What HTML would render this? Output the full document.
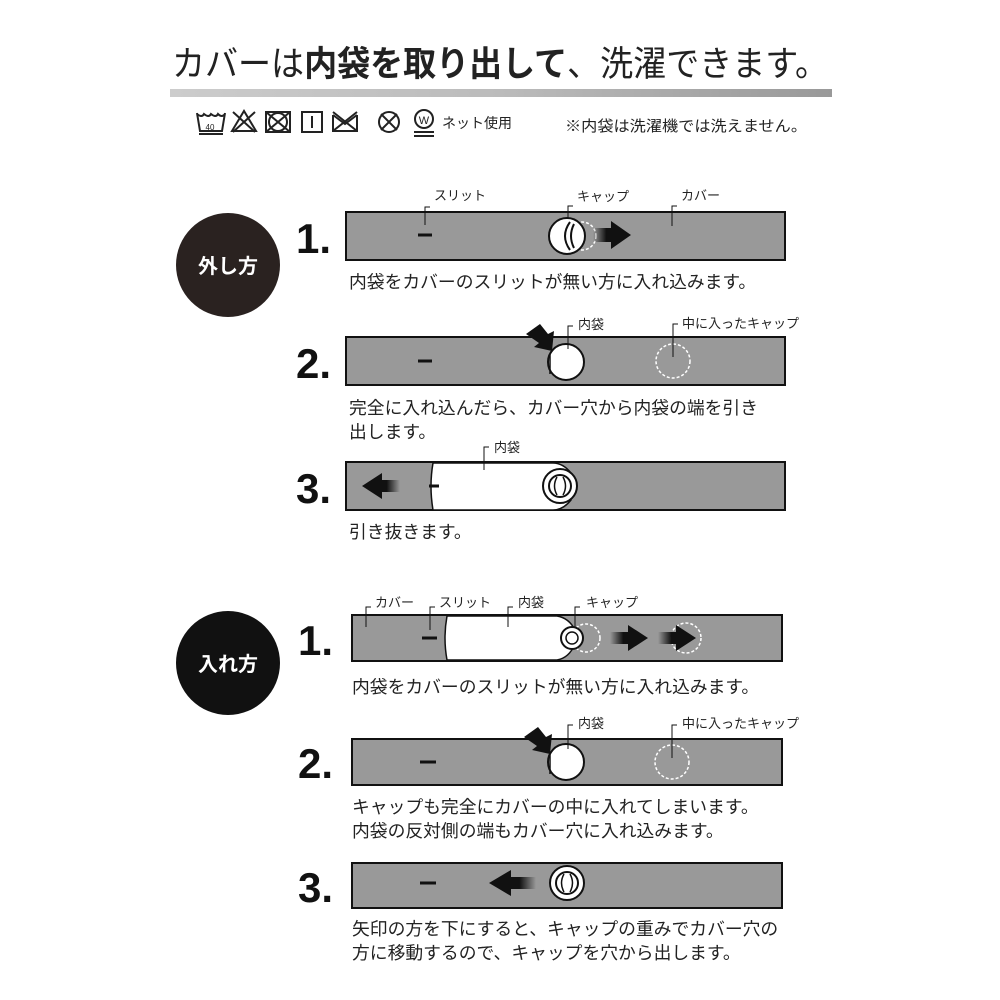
<!DOCTYPE html>
<html><head><meta charset="utf-8"><style>
html,body{margin:0;padding:0;background:#fff}
svg{display:block}
text{font-family:"Liberation Sans","Noto Sans CJK JP",sans-serif;fill:#222}
.lbl{font-size:13px}
.cap{font-size:17.8px}
.num{font-size:42px;font-weight:bold;fill:#111}
</style></head><body>
<svg width="1000" height="1000" viewBox="0 0 1000 1000" xmlns="http://www.w3.org/2000/svg">
<defs>
<linearGradient id="ar" x1="0" x2="1"><stop offset="0" stop-color="#111" stop-opacity="0"/><stop offset="0.35" stop-color="#111"/></linearGradient>
<linearGradient id="al" x1="1" x2="0"><stop offset="0" stop-color="#111" stop-opacity="0"/><stop offset="0.35" stop-color="#111"/></linearGradient>
<linearGradient id="band" x1="0" x2="1"><stop offset="0" stop-color="#ccc"/><stop offset="0.5" stop-color="#bbb"/><stop offset="1" stop-color="#999"/></linearGradient>
</defs>
<text x="500" y="76" text-anchor="middle" textLength="656" lengthAdjust="spacingAndGlyphs" style="font-size:35px">カバーは<tspan font-weight="bold">内袋を取り出して</tspan>、洗濯できます。</text>
<rect x="170" y="89" width="662" height="8" fill="url(#band)"/>
<g stroke="#222" stroke-width="2" fill="none">
<path d="M197 113 l3 18 h22 l3-18 M197 114 q5 4 7 0 q5 4 7 0 q5 4 7 0 q4 4 7 0"/><line x1="199" y1="134" x2="223" y2="134"/>
<path d="M232 131 l12-20 l12 20z M233 112 l22 20 M255 112 l-22 20"/>
<rect x="266" y="112" width="24" height="20"/><circle cx="278" cy="122" r="9"/><path d="M266 112 l24 20 M290 112 l-24 20"/>
<rect x="302" y="112" width="20" height="20"/><line x1="312" y1="116" x2="312" y2="128"/>
<path d="M333 115 l12 9 l12 -9 M333 115 v16 h24 v-16 M333 131 l24-19 M333 112 l24 19"/>
<circle cx="389" cy="122" r="10"/><path d="M381 114 l16 16 M397 114 l-16 16"/>
<circle cx="424" cy="119" r="9"/><line x1="414" y1="132" x2="434" y2="132"/><line x1="414" y1="136" x2="434" y2="136"/>
</g>
<text x="424" y="124" text-anchor="middle" style="font-size:11px">W</text>
<text x="210" y="130" text-anchor="middle" style="font-size:8px">40</text>
<text x="442" y="128" style="font-size:14px">ネット使用</text>
<text x="565" y="131" textLength="242" lengthAdjust="spacingAndGlyphs" style="font-size:15px">※内袋は洗濯機では洗えません。</text>

<circle cx="228" cy="265" r="52" fill="#2a2220"/>
<text x="228" y="273" text-anchor="middle" style="font-size:20px;font-weight:bold;fill:#fff">外し方</text>
<circle cx="228" cy="663" r="52" fill="#111"/>
<text x="228" y="671" text-anchor="middle" style="font-size:20px;font-weight:bold;fill:#fff">入れ方</text>

<text x="296" y="253" class="num">1.</text>
<text x="296" y="378" class="num">2.</text>
<text x="296" y="503" class="num">3.</text>
<text x="298" y="655" class="num">1.</text>
<text x="298" y="778" class="num">2.</text>
<text x="298" y="902" class="num">3.</text>

<g fill="#999" stroke="#111" stroke-width="2">
<rect x="346" y="212" width="439" height="48"/>
<rect x="346" y="337" width="439" height="48"/>
<rect x="346" y="462" width="439" height="48"/>
<rect x="352" y="615" width="430" height="46"/>
<rect x="352" y="739" width="430" height="46"/>
<rect x="352" y="863" width="430" height="45"/>
</g>

<line x1="418" y1="235" x2="432" y2="235" stroke="#111" stroke-width="3"/>
<g stroke="#111" stroke-width="1" fill="none"><path d="M425 225 v-18 h5 M568 220 v-14 h5 M672 226 v-20 h5"/></g>
<text x="434" y="200" class="lbl">スリット</text><text x="577" y="201" class="lbl">キャップ</text><text x="681" y="200" class="lbl">カバー</text>
<circle cx="582" cy="236" r="14" fill="none" stroke="#fff" stroke-width="1.5" stroke-dasharray="3 2"/>
<circle cx="567" cy="236" r="18" fill="#fff" stroke="#111" stroke-width="2"/>
<path d="M570 222 q-10 14 0 28 M574 224 q-6 12 0 24" stroke="#111" stroke-width="2" fill="none"/>
<path d="M593 228 h18 v-7 l20 14 -20 14 v-7 h-18z" fill="url(#ar)"/>
<text x="349" y="288" class="cap">内袋をカバーのスリットが無い方に入れ込みます。</text>

<line x1="418" y1="361" x2="432" y2="361" stroke="#111" stroke-width="3"/>
<path d="M526 334 l14-10 l8 10 l6-3 l-2 20 l-18-4 l5-4z" fill="#111"/>
<circle cx="566" cy="362" r="18" fill="#fff" stroke="#111" stroke-width="2"/>
<path d="M555 347 l-5 7 v20" stroke="#111" fill="none" stroke-width="1.5"/>
<circle cx="673" cy="361" r="17" fill="none" stroke="#fff" stroke-width="1.5" stroke-dasharray="3 2"/>
<path d="M568 349 v-23 h5 M673 357 v-33 h5" stroke="#111" fill="none"/>
<text x="578" y="329" class="lbl">内袋</text><text x="682" y="328" class="lbl">中に入ったキャップ</text>
<text x="349" y="414" class="cap">完全に入れ込んだら、カバー穴から内袋の端を引き</text>
<text x="349" y="438" class="cap">出します。</text>

<path d="M433 463 h120 q10 0 18 10 v27 q-8 10 -18 10 h-120 q-4 -24 0 -47z" fill="#fff" stroke="#111" stroke-width="1.5"/>
<line x1="429" y1="486" x2="439" y2="486" stroke="#111" stroke-width="3"/>
<circle cx="560" cy="486" r="17" fill="#fff" stroke="#111" stroke-width="2"/>
<circle cx="560" cy="486" r="11" fill="none" stroke="#111" stroke-width="2"/>
<path d="M557 477 q-5 9 0 18 M563 477 q5 9 0 18" stroke="#111" stroke-width="1.5" fill="none"/>
<path d="M400 480 h-18 v-7 l-20 13 20 13 v-7 h18z" fill="url(#al)"/>
<path d="M484 470 v-23 h5" stroke="#111" fill="none"/>
<text x="494" y="452" class="lbl">内袋</text>
<text x="349" y="538" class="cap">引き抜きます。</text>

<path d="M447 616 h110 q12 2 18 14 v14 q-6 14 -18 16 h-110 q-4 -22 0 -44z" fill="#fff" stroke="#111" stroke-width="1.5"/>
<line x1="422" y1="638" x2="437" y2="638" stroke="#111" stroke-width="3"/>
<circle cx="586" cy="638" r="14" fill="none" stroke="#fff" stroke-width="1.5" stroke-dasharray="3 2"/>
<circle cx="572" cy="638" r="11" fill="#fff" stroke="#111" stroke-width="2"/>
<circle cx="572" cy="638" r="6" fill="none" stroke="#111" stroke-width="1.5"/>
<circle cx="686" cy="638" r="15" fill="none" stroke="#fff" stroke-width="1.5" stroke-dasharray="3 2"/>
<path d="M610 632 h18 v-7 l20 13 -20 13 v-7 h-18z" fill="url(#ar)"/>
<path d="M658 632 h18 v-7 l20 13 -20 13 v-7 h-18z" fill="url(#ar)"/>
<path d="M366 627 v-20 h5 M430 630 v-23 h5 M508 627 v-20 h5 M575 627 v-20 h5" stroke="#111" fill="none"/>
<text x="375" y="607" class="lbl">カバー</text><text x="439" y="607" class="lbl">スリット</text><text x="518" y="607" class="lbl">内袋</text><text x="586" y="607" class="lbl">キャップ</text>
<text x="352" y="693" class="cap">内袋をカバーのスリットが無い方に入れ込みます。</text>

<line x1="420" y1="762" x2="436" y2="762" stroke="#111" stroke-width="3"/>
<path d="M524 737 l14-10 l8 10 l6-3 l-2 20 l-18-4 l5-4z" fill="#111"/>
<circle cx="566" cy="762" r="18" fill="#fff" stroke="#111" stroke-width="2"/>
<path d="M555 747 l-5 7 v20" stroke="#111" fill="none" stroke-width="1.5"/>
<circle cx="672" cy="762" r="17" fill="none" stroke="#fff" stroke-width="1.5" stroke-dasharray="3 2"/>
<path d="M568 749 v-24 h5 M672 758 v-33 h5" stroke="#111" fill="none"/>
<text x="578" y="728" class="lbl">内袋</text><text x="682" y="728" class="lbl">中に入ったキャップ</text>
<text x="352" y="813" class="cap">キャップも完全にカバーの中に入れてしまいます。</text>
<text x="352" y="837" class="cap">内袋の反対側の端もカバー穴に入れ込みます。</text>

<line x1="420" y1="883" x2="436" y2="883" stroke="#111" stroke-width="3"/>
<path d="M536 877 h-25 v-7 l-22 13 22 13 v-7 h25z" fill="url(#al)"/>
<circle cx="567" cy="883" r="17" fill="#fff" stroke="#111" stroke-width="2"/>
<circle cx="567" cy="883" r="11" fill="none" stroke="#111" stroke-width="2"/>
<path d="M564 874 q-5 9 0 18 M570 874 q5 9 0 18" stroke="#111" stroke-width="1.5" fill="none"/>
<text x="352" y="935" class="cap">矢印の方を下にすると、キャップの重みでカバー穴の</text>
<text x="352" y="959" class="cap">方に移動するので、キャップを穴から出します。</text>
</svg>
</body></html>
